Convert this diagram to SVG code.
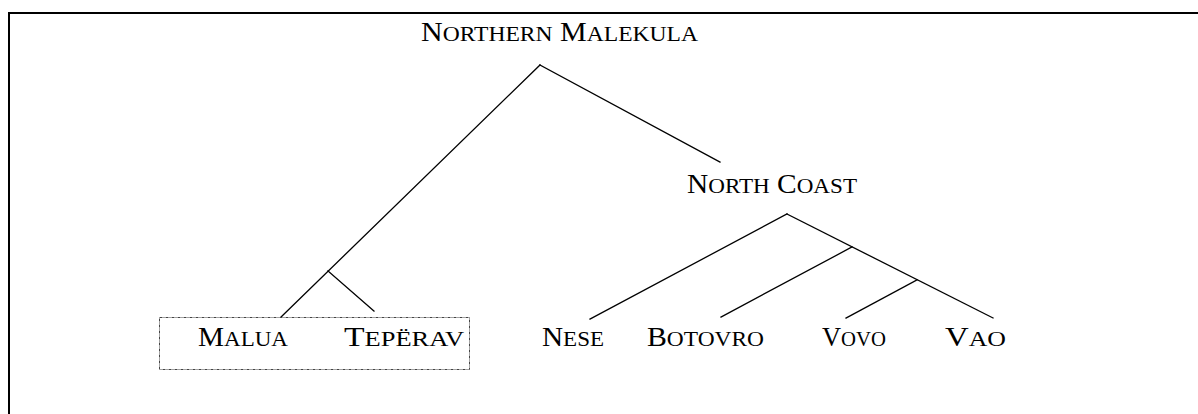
<svg xmlns="http://www.w3.org/2000/svg" width="1198" height="414" viewBox="0 0 1198 414">
  <style>
    text { font-family: "Liberation Serif", "Times New Roman", serif; fill: #000; font-size: 28px; }
    .sc { font-size: 22px; }
    .edge { stroke: #000; stroke-width: 1.3; fill: none; stroke-linecap: square; }
    .frame { stroke: #000; stroke-width: 2; fill: none; }
    .group-box { stroke: #444; stroke-width: 1; fill: none; stroke-dasharray: 3 1 1 1; }
  </style>
  <rect width="1198" height="414" fill="#fff"/>
  <!-- page frame (top and left rules) -->
  <path class="frame" d="M9,414 V13 H1198"/>

  <!-- tree connectors -->
  <g id="connectors">
    <line class="edge" x1="540" y1="65" x2="281" y2="317"/>
    <line class="edge" x1="540" y1="65" x2="720" y2="162"/>
    <line class="edge" x1="328" y1="271" x2="374" y2="311"/>
    <line class="edge" x1="787" y1="214" x2="590" y2="319"/>
    <line class="edge" x1="787" y1="214" x2="993" y2="318"/>
    <line class="edge" x1="852" y1="247" x2="721" y2="317"/>
    <line class="edge" x1="917" y1="280" x2="846" y2="318"/>
  </g>

  <g id="northern-malekula">
    <text x="421" y="41" textLength="277" lengthAdjust="spacingAndGlyphs">N<tspan class="sc">ORTHERN</tspan> M<tspan class="sc">ALEKULA</tspan></text>
  </g>
  <g id="north-coast">
    <text x="687" y="193" textLength="170" lengthAdjust="spacingAndGlyphs">N<tspan class="sc">ORTH</tspan> C<tspan class="sc">OAST</tspan></text>
  </g>
  <g id="malua-teperav-group">
    <rect class="group-box" x="159.5" y="317.5" width="310" height="52"/>
  </g>
  <g id="malua">
    <text x="198" y="346" textLength="90" lengthAdjust="spacingAndGlyphs">M<tspan class="sc">ALUA</tspan></text>
  </g>
  <g id="teperav">
    <text x="344" y="346" textLength="120" lengthAdjust="spacingAndGlyphs">T<tspan class="sc">EPËRAV</tspan></text>
  </g>
  <g id="nese">
    <text x="542" y="346" textLength="62" lengthAdjust="spacingAndGlyphs">N<tspan class="sc">ESE</tspan></text>
  </g>
  <g id="botovro">
    <text x="647" y="346" textLength="117" lengthAdjust="spacingAndGlyphs">B<tspan class="sc">OTOVRO</tspan></text>
  </g>
  <g id="vovo">
    <text x="822" y="346" textLength="64" lengthAdjust="spacingAndGlyphs">V<tspan class="sc">OVO</tspan></text>
  </g>
  <g id="vao">
    <text x="945" y="346" textLength="61" lengthAdjust="spacingAndGlyphs">V<tspan class="sc">AO</tspan></text>
  </g>
</svg>
